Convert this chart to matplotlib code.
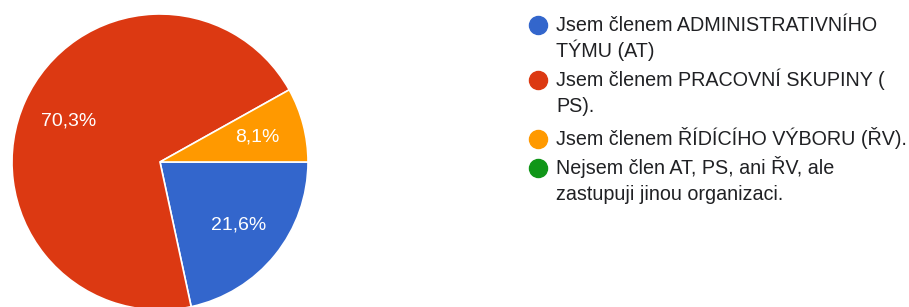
import matplotlib
matplotlib.use("Agg")
import matplotlib.pyplot as plt

categories = [
    ["Jsem členem ADMINISTRATIVNÍHO", "TÝMU (AT)"],
    ["Jsem členem PRACOVNÍ SKUPINY (", "PS)."],
    ["Jsem členem ŘÍDÍCÍHO VÝBORU (ŘV)."],
    ["Nejsem člen AT, PS, ani ŘV, ale", "zastupuji jinou organizaci."],
]
counts = [8, 26, 3, 0]
colors = ["#3366CC", "#DC3912", "#FF9900", "#109618"]

W, H = 909, 307
fig = plt.figure(figsize=(W / 100, H / 100), dpi=100)
ax = fig.add_axes([0, 0, 1, 1])

FAM = ['Liberation Sans', 'DejaVu Sans']
plt.rcParams['font.family'] = FAM

pv = [c for c in counts if c > 0]
pc = [col for c, col in zip(counts, colors) if c > 0]

def fmt(p):
    return f"{p:.1f}%".replace(".", ",")

wedges, texts, autotexts = ax.pie(
    pv, colors=pc, startangle=0, counterclock=False,
    center=(160, H - 162), radius=148,
    autopct=fmt, pctdistance=0.68,
    wedgeprops=dict(edgecolor="white", linewidth=1.2),
    textprops=dict(color="white", fontsize=14, family=FAM),
)
ax.set_xlim(0, W)
ax.set_ylim(0, H)
ax.set_aspect("auto")
ax.axis("off")

# legend (first-line baselines in pixels from top, line step 26 px)
baselines = [31, 86, 145, 174]
for lines, col, b in zip(categories, colors, baselines):
    ax.plot([538], [H - (b - 6)], marker="o", markersize=13, color=col,
            linestyle="none", clip_on=False)
    for i, line in enumerate(lines):
        ax.text(556, H - (b + 26 * i), line, color="#202124", fontsize=14.25,
                va="baseline", ha="left", family=FAM)

fig.savefig("out.png", dpi=100)
